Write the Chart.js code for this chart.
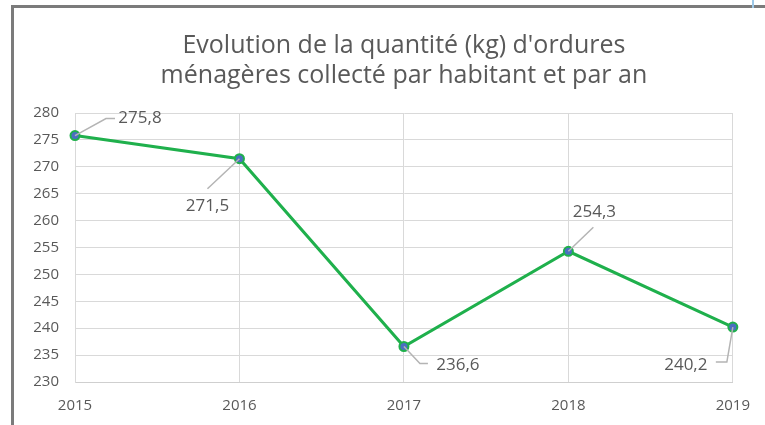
<!DOCTYPE html>
<html>
<head>
<meta charset="utf-8">
<script src="https://cdn.jsdelivr.net/npm/chart.js@4/dist/chart.umd.min.js"></script>
<style>
  body { margin: 0; background: #fff; }
  #wrap { position: relative; width: 765px; height: 425px; }
  #frame { position: absolute; left: 11px; top: 5px; right: 0; bottom: 0;
           border-left: 3px solid #7b7b7b; border-top: 3px solid #7b7b7b; pointer-events: none; }
  #edge { position: absolute; left: 752px; top: 0; width: 2px; height: 8px; background: #9cc8e8; }
</style>
</head>
<body>
<div id="wrap">
  <canvas id="wasteChart" width="765" height="425"></canvas>
  <div id="frame"></div>
  <div id="edge"></div>
</div>
<script>
var years = ['2015', '2016', '2017', '2018', '2019'];
var kgPerPerson = [275.8, 271.5, 236.6, 254.3, 240.2];
var titleLines = ["Evolution de la quantité (kg) d'ordures", "ménagères collecté par habitant et par an"];

// where each data label sits relative to its point (text centre, leader elbow, leader end)
var labelPlace = [
    { dx: 65, dy: -17, elbow: [ 31, -17], end: [ 40, -17] },
    { dx: -32, dy: 47, elbow: null, end: [-32, 30] },
    { dx: 54, dy: 19, elbow: [ 16, 17], end: [ 24, 17] },
    { dx: 26, dy: -39, elbow: null, end: [ 25, -24] },
    { dx: -47, dy: 38, elbow: [ -6, 35], end: [-17, 35] }
];

var leaderLabels = {
    id: 'leaderLabels',
    afterDatasetsDraw: function (chart) {
        var ctx = chart.ctx;
        var meta = chart.getDatasetMeta(0);
        ctx.save();
        ctx.font = '17px "Open Sans", sans-serif';
        ctx.textAlign = 'center';
        ctx.textBaseline = 'middle';
        meta.data.forEach(function (pt, i) {
            var p = labelPlace[i];
            ctx.strokeStyle = '#b4b4b4';
            ctx.lineWidth = 1.5;
            ctx.beginPath();
            ctx.moveTo(pt.x, pt.y);
            if (p.elbow) ctx.lineTo(pt.x + p.elbow[0], pt.y + p.elbow[1]);
            ctx.lineTo(pt.x + p.end[0], pt.y + p.end[1]);
            ctx.stroke();
            ctx.fillStyle = '#595959';
            ctx.fillText(kgPerPerson[i].toFixed(1).replace('.', ','), pt.x + p.dx, pt.y + p.dy);
        });
        ctx.restore();
    }
};

var ctx = document.getElementById('wasteChart').getContext('2d');
new Chart(ctx, {
    type: 'line',
    data: {
        labels: years,
        datasets: [{
            data: kgPerPerson,
            borderColor: '#1fb04c',
            borderWidth: 3,
            pointBackgroundColor: '#4a6fc0',
            pointBorderColor: '#1fb04c',
            pointBorderWidth: 2,
            pointRadius: 4.5,
            tension: 0
        }]
    },
    options: {
        responsive: false,
        animation: false,
        layout: { padding: { left: 15, right: 32, top: 0, bottom: 0 } },
        plugins: {
            legend: { display: false },
            tooltip: { enabled: false },
            title: {
                display: true,
                fullSize: false,
                text: titleLines,
                color: '#595959',
                font: { family: '"Open Sans", sans-serif', size: 25, weight: 'normal', lineHeight: 1.2 },
                padding: { top: 31, bottom: 22 }
            }
        },
        scales: {
            x: {
                offset: false,
                grid: { color: '#d9d9d9', drawTicks: false },
                border: { color: '#cfcfcf' },
                ticks: { color: '#595959', font: { family: '"Open Sans", sans-serif', size: 15 }, padding: 15, maxRotation: 0 },
                afterFit: function (s) { s.height = 43; }
            },
            y: {
                min: 230,
                max: 280,
                grid: { color: '#d9d9d9', drawTicks: false },
                border: { color: '#d9d9d9' },
                ticks: { stepSize: 5, color: '#595959', font: { family: '"Open Sans", sans-serif', size: 15 }, padding: 16 },
                afterFit: function (s) { s.width = 60; }
            }
        }
    },
    plugins: [leaderLabels]
});
</script>
</body>
</html>
